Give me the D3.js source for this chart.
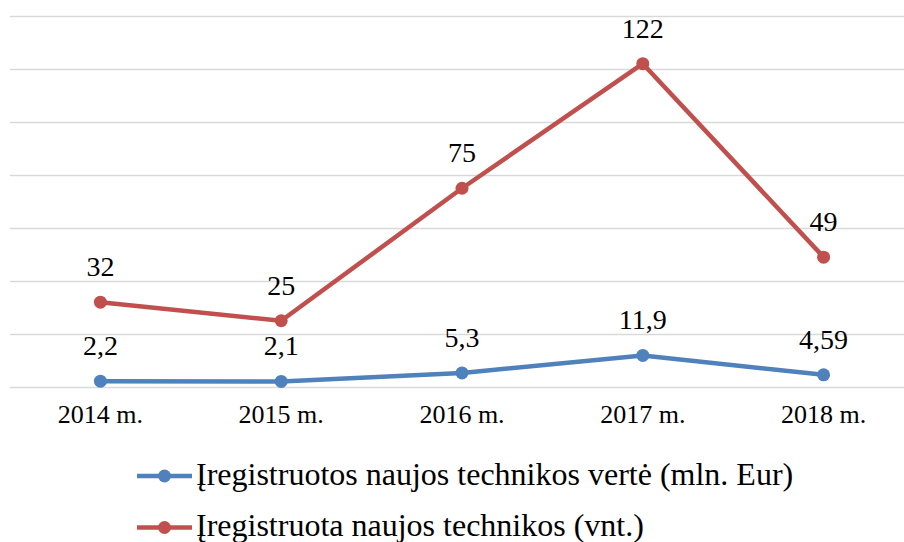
<!DOCTYPE html>
<html>
    <head>
        <meta charset="utf-8"/>
        <script src="https://cdnjs.cloudflare.com/ajax/libs/d3/7.8.5/d3.min.js"></script>
        <style>
            body { margin: 0; background: #fff; }
        </style>
    </head>
    <body>
        <script>
            const years = ["2014 m.", "2015 m.", "2016 m.", "2017 m.", "2018 m."];
            const valueMln = [2.2, 2.1, 5.3, 11.9, 4.59];
            const countUnits = [32, 25, 75, 122, 49];
            const seriesNames = [
                "Įregistruotos naujos technikos vertė (mln. Eur)",
                "Įregistruota naujos technikos (vnt.)"
            ];
            const seriesColors = ["#4f81bd", "#c0504d"];
            const yTicks = [0, 20, 40, 60, 80, 100, 120, 140];

            const serif = "Liberation Serif";

            function drawChart() {
                let width = 904;
                let height = 542;
                let margin = ({top: 16, right: -10, bottom: 155, left: 10});

                let x = d3.scaleBand()
                        .domain(years)
                        .range([margin.left, width - margin.right]);

                let y = d3.scaleLinear()
                        .domain([0, 140])
                        .range([height - margin.bottom, margin.top]);

                const fmt = v => String(v).replace(".", ",");
                const cx = i => x(years[i]) + x.bandwidth() / 2;

                const svg = d3.select("body").append("svg")
                    .attr("width", width)
                    .attr("height", height)
                    .attr("font-family", serif);

                // horizontal gridlines
                svg.append("g")
                    .attr("transform", `translate(${margin.left},0)`)
                    .call(d3.axisLeft(y).tickValues(yTicks).tickSize(-(width - margin.left)).tickFormat(""))
                    .call(g => g.select(".domain").remove())
                    .call(g => g.selectAll(".tick line").attr("stroke", "#d9d9d9").attr("stroke-width", 1.5));

                // x axis labels
                svg.append("g")
                    .attr("transform", `translate(0,${height - margin.bottom})`)
                    .call(d3.axisBottom(x).tickSize(0))
                    .attr("font-family", serif)
                    .call(g => g.select(".domain").remove())
                    .call(g => g.selectAll(".tick text")
                        .attr("dy", null)
                        .attr("y", 36)
                        .attr("font-size", 26)
                        .attr("fill", "#000"));

                const series = [valueMln, countUnits];
                const line = d3.line()
                    .x((d, i) => cx(i))
                    .y(d => y(d));

                series.forEach((vals, si) => {
                    const g = svg.append("g");
                    g.append("path")
                        .datum(vals)
                        .attr("fill", "none")
                        .attr("stroke", seriesColors[si])
                        .attr("stroke-width", 4.5)
                        .attr("stroke-linejoin", "round")
                        .attr("d", line);
                    g.selectAll("circle")
                        .data(vals)
                        .join("circle")
                        .attr("cx", (d, i) => cx(i))
                        .attr("cy", d => y(d))
                        .attr("r", 6.5)
                        .attr("fill", seriesColors[si]);
                    g.selectAll("text")
                        .data(vals)
                        .join("text")
                        .attr("x", (d, i) => cx(i))
                        .attr("y", d => y(d) - 26)
                        .attr("text-anchor", "middle")
                        .attr("font-size", 28)
                        .attr("fill", "#000")
                        .text(fmt);
                });

                // legend
                const legend = svg.append("g")
                    .attr("transform", "translate(137,476)");
                seriesNames.forEach((name, i) => {
                    const row = legend.append("g")
                        .attr("transform", `translate(0,${i * 51.5})`);
                    row.append("line")
                        .attr("x1", 0).attr("x2", 55)
                        .attr("stroke", seriesColors[i])
                        .attr("stroke-width", 4.5);
                    row.append("circle")
                        .attr("cx", 27.5).attr("r", 6.5)
                        .attr("fill", seriesColors[i]);
                    row.append("text")
                        .attr("x", 59)
                        .attr("y", 8.5)
                        .attr("font-size", 32)
                        .attr("fill", "#000")
                        .text(name);
                });
            }
            drawChart();
        </script>
    </body>
</html>
